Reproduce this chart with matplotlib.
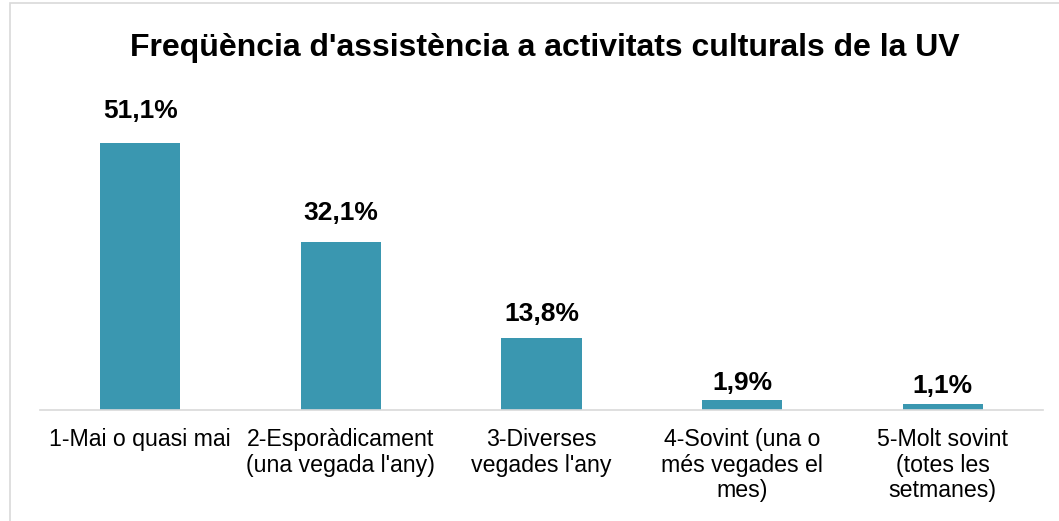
import matplotlib

matplotlib.use("Agg")
import matplotlib.pyplot as plt
from matplotlib.patches import Rectangle

plt.rcParams["font.family"] = ["Liberation Sans", "DejaVu Sans"]

title = "Freqüència d'assistència a activitats culturals de la UV"
categories = [
    "1-Mai o quasi mai",
    "2-Esporàdicament\n(una vegada l'any)",
    "3-Diverses\nvegades l'any",
    "4-Sovint (una o\nmés vegades el\nmes)",
    "5-Molt sovint\n(totes les\nsetmanes)",
]
values = [51.1, 32.1, 13.8, 1.9, 1.1]
labels = ["51,1%", "32,1%", "13,8%", "1,9%", "1,1%"]

# label gap above each bar, in points (as laid out in the original)
label_gap = [18, 15.8, 12.2, 7.2, 7.9]

W, H = 1059, 521
fig = plt.figure(figsize=(W / 100, H / 100), dpi=100)
ax = fig.add_axes([40 / W, (H - 410) / H, (1043 - 40) / W, (410 - 96.5) / H])

x = range(len(categories))
ax.bar(x, values, width=0.4, color="#3A97B0", zorder=2)
ax.set_xlim(-0.5, len(categories) - 0.5)
ax.set_ylim(0, 60)

for xi, v, lab, gap in zip(x, values, labels, label_gap):
    ax.annotate(lab, (xi, v), textcoords="offset points", xytext=(0, gap),
                ha="center", va="baseline", fontsize=19, fontweight="bold")

ax.set_xticks(list(x), categories, fontsize=16.7, linespacing=1.15)
ax.tick_params(axis="x", length=0, pad=13)
ax.set_yticks([])
for s in ["top", "right", "left"]:
    ax.spines[s].set_visible(False)
ax.spines["bottom"].set_color("#d9d9d9")
ax.spines["bottom"].set_linewidth(1.2)

fig.text(545 / W, 1 - 48 / H, title, ha="center", va="center",
         fontsize=23, fontweight="bold")

# light frame around the chart area
fig.patches.append(Rectangle((10 / W, -0.01), 1.02, 1 - 3 / H + 0.01,
                             transform=fig.transFigure, fill=False,
                             edgecolor="#d9d9d9", lw=1.2))

fig.savefig("out.png", dpi=100)
